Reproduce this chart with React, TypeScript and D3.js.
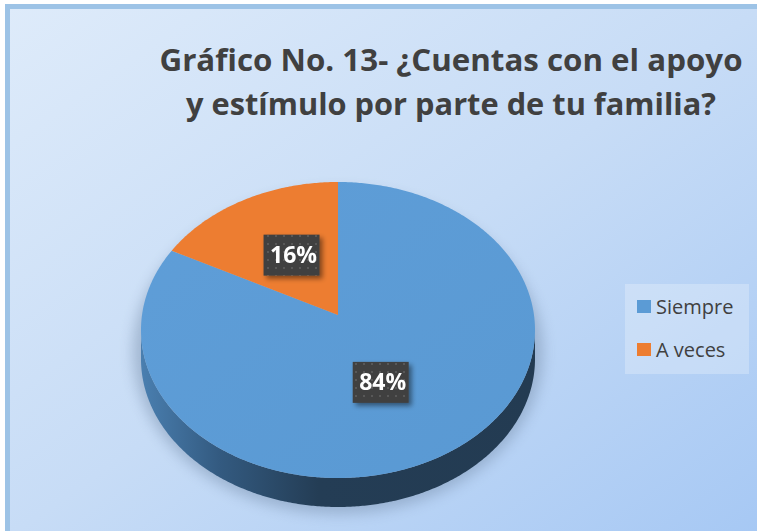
import React from "react";
import * as d3 from "d3";

const categories = ["Siempre", "A veces"];
const values = [84, 16];
const labels = ["84%", "16%"];
const colors = ["#5b9bd5", "#ed7d31"];
const titleLines = ["Gráfico No. 13- ¿Cuentas con el apoyo", "y estímulo por parte de tu familia?"];
const titleWidths = [583, 530];

const W = 757;
const H = 531;

export default function App() {
  const cx = 338;
  const cy = 330;
  const rx = 197;
  const ry = 148;
  const depth = 29;
  const vy = cy - 15; // perspective vertex

  const pie = d3.pie<number>().sort(null).startAngle(0).endAngle(2 * Math.PI);
  const arcs = pie(values);

  const pt = (a: number, dy = 0): [number, number] => [cx + rx * Math.sin(a), cy - ry * Math.cos(a) + dy];
  const line = d3.line<[number, number]>().x((d) => d[0]).y((d) => d[1]);

  const arcPoints = (a0: number, a1: number, dy = 0) => {
    const n = Math.max(2, Math.ceil(Math.abs(a1 - a0) / 0.01));
    return d3.range(n + 1).map((i) => pt(a0 + ((a1 - a0) * i) / n, dy));
  };

  const slicePaths = arcs.map((a) => {
    const pts: [number, number][] = [[cx, vy], ...arcPoints(a.startAngle, a.endAngle)];
    return line(pts) + "Z";
  });

  // side (front half)
  const sideTop = arcPoints(Math.PI / 2, (3 * Math.PI) / 2);
  const sideBot = arcPoints((3 * Math.PI) / 2, Math.PI / 2, depth);
  const sidePath = line([...sideTop, ...sideBot]) + "Z";

  const labelF = [0.45, 0.5];
  const labelOffsets = [[0, 9], [1, 5]];
  const labelPos = arcs.map((a, i) => {
    const mid = (a.startAngle + a.endAngle) / 2;
    const f = labelF[i];
    return [cx + rx * f * Math.sin(mid) + labelOffsets[i][0], vy - ry * f * Math.cos(mid) + labelOffsets[i][1]];
  });

  return (
    <svg width={W} height={H} style={{ position: "absolute", left: 0, top: 0 }}>
      <defs>
        <linearGradient id="bg" x1="0" y1="0" x2="1" y2="1">
          <stop offset="0" stopColor="#deebfa" />
          <stop offset="0.5" stopColor="#c7dcf6" />
          <stop offset="1" stopColor="#a6c8f4" />
        </linearGradient>
        <linearGradient id="side" x1="0" y1="0" x2="1" y2="0">
          <stop offset="0" stopColor="#4a7fb0" />
          <stop offset="0.2" stopColor="#335a80" />
          <stop offset="0.45" stopColor="#243d55" />
          <stop offset="1" stopColor="#233b52" />
        </linearGradient>
        <linearGradient id="topBlue" x1="0" y1="0" x2="1" y2="1">
          <stop offset="0" stopColor="#5f9ed8" />
          <stop offset="1" stopColor="#5999d3" />
        </linearGradient>
        <filter id="blur" x="-30%" y="-30%" width="160%" height="160%">
          <feGaussianBlur stdDeviation="7" />
        </filter>
        <filter id="lblShadow" x="-30%" y="-30%" width="160%" height="160%">
          <feDropShadow dx="3" dy="3" stdDeviation="2.5" floodColor="#000" floodOpacity="0.45" />
        </filter>
        <pattern id="dots" width="8" height="8" patternUnits="userSpaceOnUse">
          <rect width="8" height="8" fill="#404040" />
          <rect x="3" y="3" width="2" height="2" fill="#585858" />
        </pattern>
      </defs>
      <rect x={0} y={0} width={W} height={H} fill="#ffffff" />
      <rect x={7.5} y={6.5} width={W} height={H} fill="url(#bg)" stroke="#9dc3e6" strokeWidth={5} />

      {titleLines.map((t, i) => (
        <text
          key={i}
          x={451}
          y={71 + i * 44}
          textAnchor="middle"
          fontFamily="'Open Sans', sans-serif"
          fontWeight="bold"
          fontSize={30}
          fill="#404040"
          textLength={titleWidths[i]}
          lengthAdjust="spacingAndGlyphs"
        >
          {t}
        </text>
      ))}

      {/* shadow */}
      <ellipse cx={cx} cy={cy + 22} rx={rx + 8} ry={ry + 14} fill="#6f86a3" opacity={0.45} filter="url(#blur)" />

      <path d={sidePath} fill="url(#side)" />
      {slicePaths.map((d, i) => (
        <path key={i} d={d} fill={i === 0 ? "url(#topBlue)" : colors[i]} />
      ))}

      {labels.map((l, i) => {
        const [bx, by] = labelPos[i];
        return (
          <g key={i} filter="url(#lblShadow)">
            <rect x={bx - 28} y={by - 20.5} width={56} height={41} fill="url(#dots)" />
            <text x={bx + 2} y={by + 8} textAnchor="middle" fontFamily="'Open Sans', sans-serif" fontWeight="bold" fontSize={23} fill="#ffffff">
              {l}
            </text>
          </g>
        );
      })}

      <rect x={625} y={284} width={124} height={90} fill="#ffffff" opacity={0.25} />
      {categories.map((c, i) => (
        <g key={c}>
          <rect x={637} y={300 + i * 43} width={14} height={13} fill={colors[i]} />
          <text x={656} y={314 + i * 43} fontFamily="'Open Sans', sans-serif" fontSize={20} fill="#404040">
            {c}
          </text>
        </g>
      ))}
    </svg>
  );
}
